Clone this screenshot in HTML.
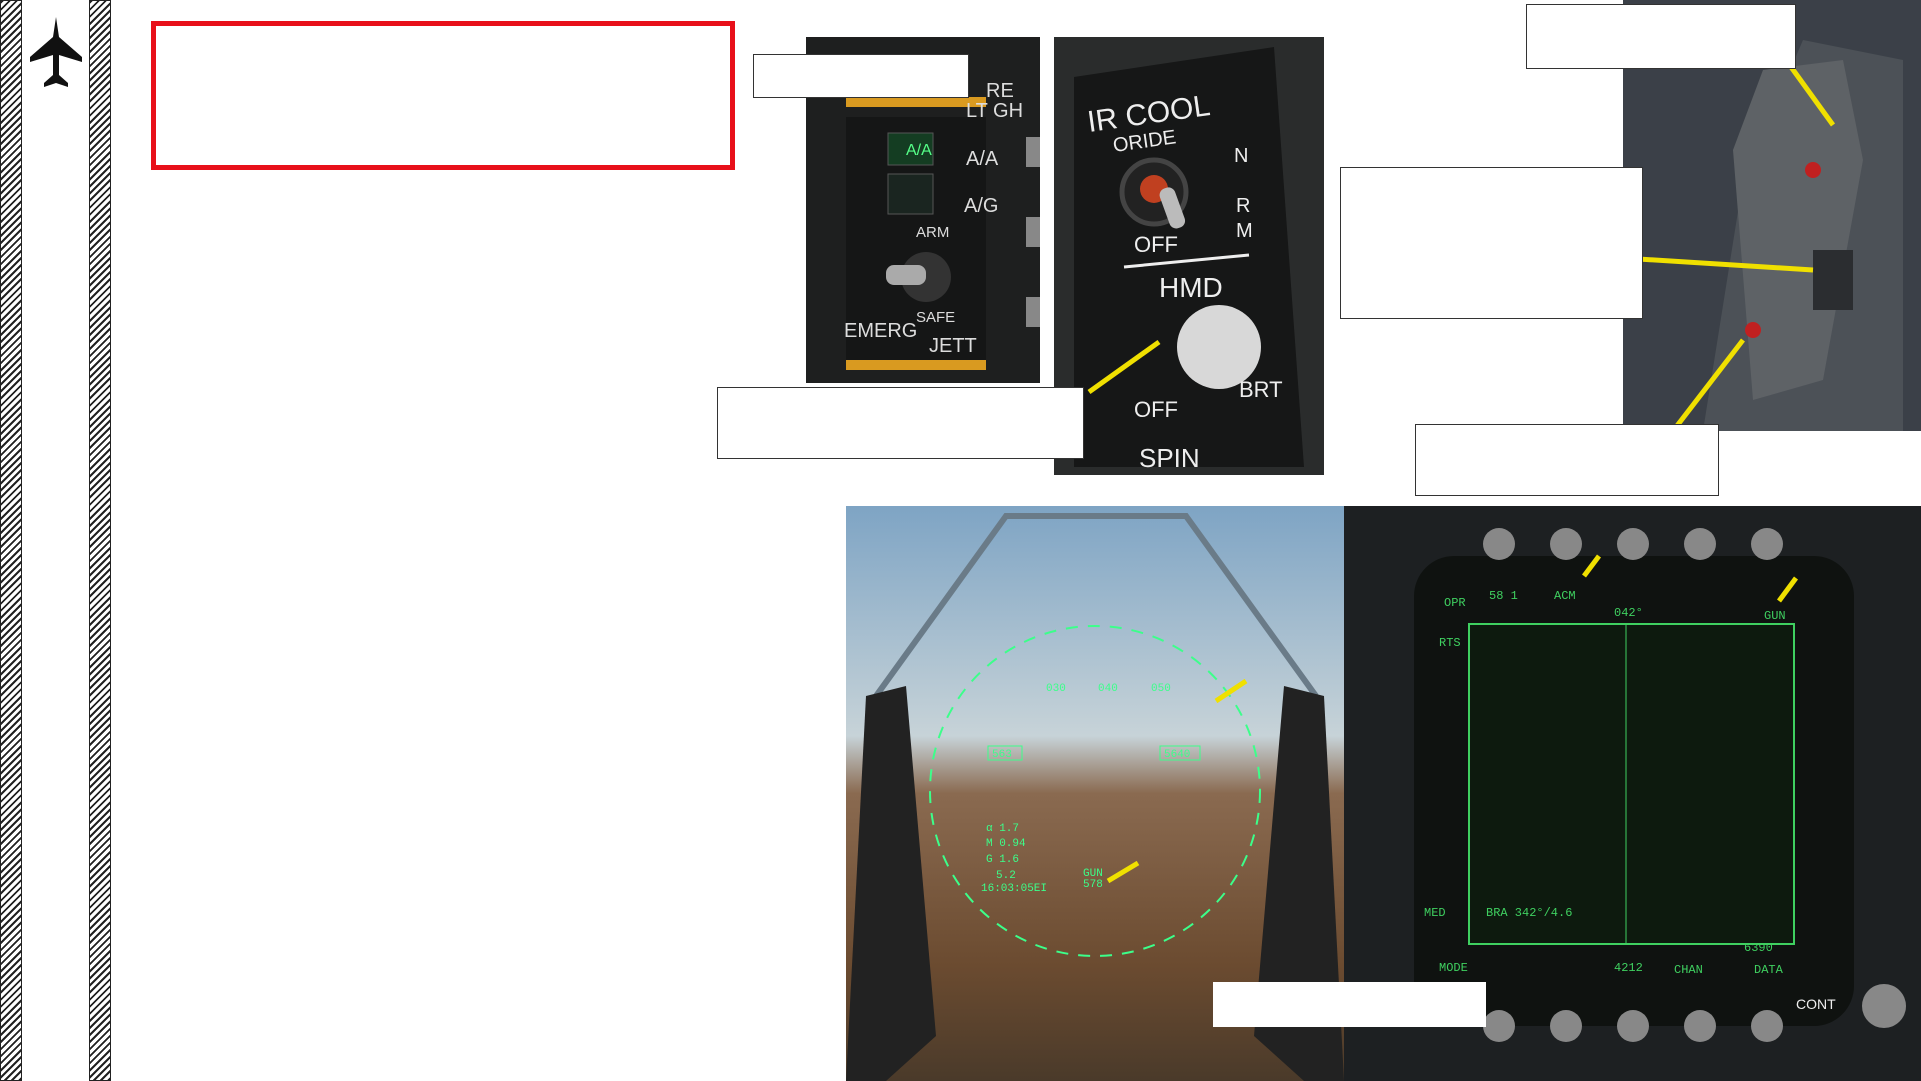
<!DOCTYPE html>
<html><head><meta charset="utf-8"><style>
body{margin:0;width:1921px;height:1081px;background:#fff;position:relative;overflow:hidden;font-family:"Liberation Sans",sans-serif}
.a{position:absolute}
.hatch{background:repeating-linear-gradient(135deg,#222 0 2px,#fff 2px 5px);border:1px solid #222;box-sizing:border-box}
.box{background:#fff;border:1.5px solid #333;box-sizing:border-box}
</style></head><body>
<div class="a hatch" style="left:0;top:0;width:22px;height:1081px"></div>
<div class="a hatch" style="left:89px;top:0;width:22px;height:1081px"></div>
<svg class="a" style="left:28px;top:15px" width="56" height="80" viewBox="0 0 56 80"><path d="M28 2 L31 22 L54 42 L54 47 L31 40 L31 60 L40 68 L40 72 L28 68 L16 72 L16 68 L25 60 L25 40 L2 47 L2 42 L25 22 Z" fill="#111"/></svg>
<div class="a" style="left:151px;top:21px;width:584px;height:149px;border:5px solid #e8101a;box-sizing:border-box"></div>

<svg class="a" style="left:806px;top:37px" width="234" height="346">
<rect width="234" height="346" fill="#1e1f1f"/><rect x="40" y="80" width="140" height="250" fill="#151616"/>
<rect x="82" y="96" width="45" height="32" fill="#143d22" stroke="#555"/><text x="100" y="118" fill="#55ff88" font-size="16">A/A</text>
<rect x="82" y="137" width="45" height="40" fill="#1a2520" stroke="#555"/>
<text x="160" y="128" fill="#ddd" font-size="20">A/A</text><text x="158" y="175" fill="#ddd" font-size="20">A/G</text>
<text x="110" y="200" fill="#ddd" font-size="15">ARM</text><text x="110" y="285" fill="#ddd" font-size="15">SAFE</text>
<text x="38" y="300" fill="#ddd" font-size="20">EMERG</text><text x="123" y="315" fill="#ddd" font-size="20">JETT</text>
<circle cx="120" cy="240" r="25" fill="#333"/><rect x="80" y="228" width="40" height="20" rx="8" fill="#aaa"/>
<rect x="40" y="60" width="140" height="10" fill="#d99a20"/><rect x="40" y="323" width="140" height="10" fill="#d99a20"/>
<text x="180" y="60" fill="#ddd" font-size="20">RE</text><text x="160" y="80" fill="#ddd" font-size="20">LT GH</text>
<rect x="220" y="100" width="14" height="30" fill="#888"/><rect x="220" y="180" width="14" height="30" fill="#888"/><rect x="220" y="260" width="14" height="30" fill="#888"/>
</svg>
<svg class="a" style="left:1054px;top:37px" width="270" height="438">
<rect width="270" height="438" fill="#2a2c2c"/><path d="M20 40 L220 10 L250 430 L20 430 Z" fill="#161717"/>
<text x="35" y="95" fill="#eee" font-size="30" transform="rotate(-8 35 95)">IR COOL</text>
<text x="60" y="115" fill="#eee" font-size="20" transform="rotate(-8 60 115)">ORIDE</text>
<circle cx="100" cy="155" r="32" fill="#222" stroke="#444" stroke-width="5"/><circle cx="100" cy="152" r="14" fill="#c04020"/>
<rect x="110" y="150" width="16" height="42" rx="7" fill="#bbb" transform="rotate(-20 118 170)"/>
<text x="80" y="215" fill="#eee" font-size="22">OFF</text><text x="180" y="125" fill="#eee" font-size="20">N</text><text x="182" y="175" fill="#eee" font-size="20">R</text><text x="182" y="200" fill="#eee" font-size="20">M</text>
<text x="105" y="260" fill="#eee" font-size="28">HMD</text><line x1="70" y1="230" x2="195" y2="218" stroke="#eee" stroke-width="3"/>
<circle cx="165" cy="310" r="42" fill="#d8d8d8"/><text x="80" y="380" fill="#eee" font-size="22">OFF</text><text x="185" y="360" fill="#eee" font-size="22">BRT</text>
<text x="85" y="430" fill="#eee" font-size="26">SPIN</text>
<line x1="35" y1="355" x2="105" y2="305" stroke="#f0e000" stroke-width="5"/>
</svg>
<svg class="a" style="left:1623px;top:0" width="298" height="431">
<rect width="298" height="431" fill="#3b4048"/><path d="M80 431 L120 180 L180 40 L280 60 L280 431 Z" fill="#4c5157"/>
<path d="M110 150 L140 70 L220 60 L240 160 L200 380 L130 400 Z" fill="#5e6266"/><circle cx="190" cy="170" r="8" fill="#c02020"/><circle cx="130" cy="330" r="8" fill="#c02020"/>
<rect x="190" y="250" width="40" height="60" fill="#2b2d30"/>
<line x1="0" y1="258" x2="190" y2="270" stroke="#f0e000" stroke-width="5"/><line x1="163" y1="60" x2="210" y2="125" stroke="#f0e000" stroke-width="5"/><line x1="50" y1="431" x2="120" y2="340" stroke="#f0e000" stroke-width="5"/>
</svg>
<svg class="a" style="left:846px;top:506px" width="498" height="575">
<defs><linearGradient id="sky" x1="0" y1="0" x2="0" y2="1"><stop offset="0" stop-color="#7ea4c4"/><stop offset="0.4" stop-color="#c7d3d8"/><stop offset="0.5" stop-color="#8a6a50"/><stop offset="0.8" stop-color="#6b4b30"/><stop offset="1" stop-color="#4a3a2a"/></linearGradient></defs>
<rect width="498" height="575" fill="url(#sky)"/>
<path d="M30 190 L160 10 L340 10 L470 190" fill="none" stroke="#6a7b88" stroke-width="6"/>
<path d="M20 190 L60 180 L90 530 L40 575 L0 575 Z" fill="#222"/><path d="M478 190 L438 180 L408 530 L458 575 L498 575 Z" fill="#222"/>
<circle cx="249" cy="285" r="165" fill="none" stroke="#3cff8a" stroke-width="2" stroke-dasharray="12 10"/>
<g fill="#3cff8a" font-size="11" font-family="Liberation Mono,monospace"><text x="200" y="185">030</text><text x="252" y="185">040</text><text x="305" y="185">050</text>
<text x="140" y="325">α 1.7</text><text x="140" y="340">M 0.94</text><text x="140" y="356">G 1.6</text><text x="150" y="372">5.2</text><text x="135" y="385">16:03:05EI</text><text x="237" y="370">GUN</text><text x="237" y="381">578</text>
<rect x="142" y="240" width="34" height="14" fill="none" stroke="#3cff8a"/><text x="146" y="251">563</text><rect x="314" y="240" width="40" height="14" fill="none" stroke="#3cff8a"/><text x="318" y="251">5640</text></g>
<line x1="370" y1="195" x2="400" y2="175" stroke="#f0e000" stroke-width="5"/><line x1="262" y1="375" x2="292" y2="357" stroke="#f0e000" stroke-width="5"/>
</svg>
<svg class="a" style="left:1344px;top:506px" width="577" height="575">
<rect width="577" height="575" fill="#1d2022"/><rect x="70" y="50" width="440" height="470" rx="40" fill="#0f1210"/>
<rect x="125" y="118" width="325" height="320" fill="#0d1a0e" stroke="#3fd060" stroke-width="2"/><line x1="282" y1="118" x2="282" y2="438" stroke="#3fd060"/>
<g fill="#3fd060" font-size="12" font-family="Liberation Mono,monospace"><text x="100" y="100">OPR</text><text x="95" y="140">RTS</text><text x="145" y="93">58 1</text><text x="210" y="93">ACM</text><text x="270" y="110">042°</text><text x="420" y="113">GUN</text><text x="142" y="410">BRA 342°/4.6</text><text x="80" y="410">MED</text><text x="95" y="465">MODE</text><text x="270" y="465">4212</text><text x="330" y="467">CHAN</text><text x="410" y="467">DATA</text><text x="400" y="445">6390</text></g>
<g fill="#888"><circle cx="155" cy="38" r="16"/><circle cx="222" cy="38" r="16"/><circle cx="289" cy="38" r="16"/><circle cx="356" cy="38" r="16"/><circle cx="423" cy="38" r="16"/><circle cx="155" cy="520" r="16"/><circle cx="222" cy="520" r="16"/><circle cx="289" cy="520" r="16"/><circle cx="356" cy="520" r="16"/><circle cx="423" cy="520" r="16"/><circle cx="540" cy="500" r="22"/></g>
<line x1="240" y1="70" x2="255" y2="50" stroke="#f0e000" stroke-width="5"/><line x1="435" y1="95" x2="452" y2="72" stroke="#f0e000" stroke-width="5"/>
<text x="452" y="503" fill="#eee" font-size="14">CONT</text>
</svg>
<div class="a box" style="left:753px;top:54px;width:216px;height:44px"></div>
<div class="a box" style="left:717px;top:387px;width:367px;height:72px"></div>
<div class="a box" style="left:1526px;top:4px;width:270px;height:65px"></div>
<div class="a box" style="left:1340px;top:167px;width:303px;height:152px"></div>
<div class="a box" style="left:1415px;top:424px;width:304px;height:72px"></div>
<div class="a box" style="left:1213px;top:982px;width:273px;height:45px;border:none"></div>
</body></html>
